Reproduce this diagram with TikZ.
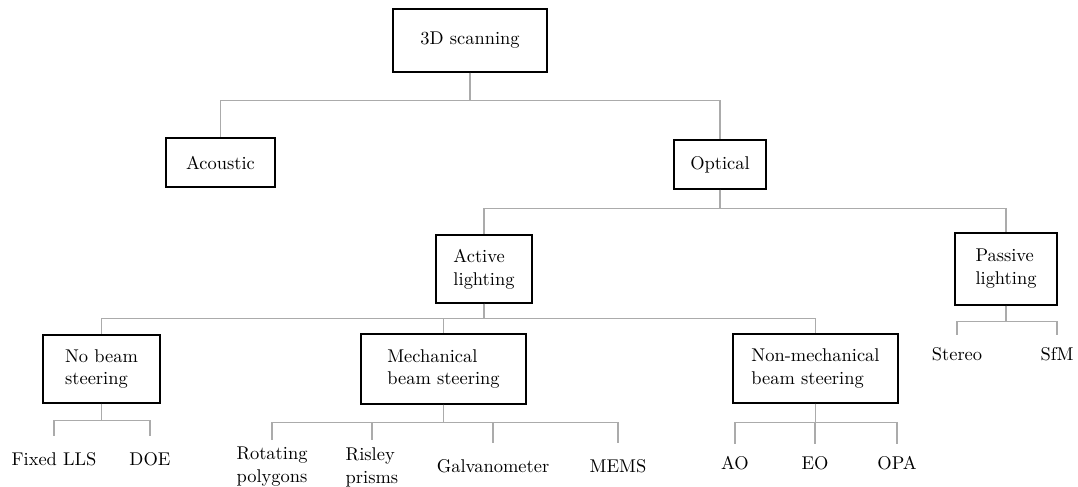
\documentclass[tikz,border=0pt]{standalone}
\usepackage{tikz}

\begin{document}
\begin{tikzpicture}[
  box/.style={draw, line width=0.8pt, align=left},
  leaf/.style={inner sep=0pt, outer ysep=7pt, align=left},
  link/.style={draw=black!33, line width=0.6pt}]
  \fontsize{10.5}{13}\selectfont
  \useasboundingbox (0,0) rectangle (21.56,-9.72);
  \node[box, minimum width=3.08cm, minimum height=1.26cm] (Scanning) at (9.40,-0.81) {3D scanning};
  \node[box, minimum width=2.18cm, minimum height=0.98cm] (Acoustic) at (4.41,-3.25) {Acoustic};
  \node[box, minimum width=1.84cm, minimum height=0.98cm] (Optical) at (14.40,-3.29) {Optical};
  \node[box, minimum width=1.92cm, minimum height=1.36cm] (Active) at (9.68,-5.38) {Active\\lighting};
  \node[box, minimum width=2.04cm, minimum height=1.44cm] (Passive) at (20.12,-5.38) {Passive\\lighting};
  \node[box, minimum width=2.34cm, minimum height=1.36cm] (NoBeam) at (2.03,-7.38) {No beam\\steering};
  \node[box, minimum width=3.30cm, minimum height=1.40cm] (Mechanical) at (8.87,-7.38) {Mechanical\\beam steering};
  \node[box, minimum width=3.30cm, minimum height=1.38cm] (NonMech) at (16.31,-7.37) {Non-mechanical\\beam steering};

  \node[leaf, outer ysep=9.5pt] (FixedLLS) at (1.08,-9.18) {Fixed LLS};
  \node[leaf, outer ysep=9.5pt] (DOE) at (3.00,-9.18) {DOE};
  \node[leaf, outer ysep=4pt] (Rotating) at (5.44,-9.34) {Rotating\\polygons};
  \node[leaf, outer ysep=4pt] (Risley) at (7.44,-9.34) {Risley\\prisms};
  \node[leaf, outer ysep=9.5pt] (Galvo) at (9.86,-9.32) {Galvanometer};
  \node[leaf, outer ysep=9.5pt] (MEMS) at (12.36,-9.32) {MEMS};
  \node[leaf] (AO) at (14.70,-9.26) {AO};
  \node[leaf] (EO) at (16.30,-9.26) {EO};
  \node[leaf] (OPA) at (17.94,-9.26) {OPA};
  \node[leaf] (Stereo) at (19.14,-7.08) {Stereo};
  \node[leaf] (SfM) at (21.14,-7.08) {SfM};

  \draw[link] (Scanning.south) -- ++(0,-0.56) -| (Acoustic.north);
  \draw[link] (Scanning.south) -- ++(0,-0.56) -| (Optical.north);
  \draw[link] (Optical.south) -- ++(0,-0.38) -| (Active.north);
  \draw[link] (Optical.south) -- ++(0,-0.38) -| (Passive.north);
  \draw[link] (Active.south) -- ++(0,-0.30) -| (NoBeam.north);
  \draw[link] (Active.south) -- ++(0,-0.30) -| (Mechanical.north);
  \draw[link] (Active.south) -- ++(0,-0.30) -| (NonMech.north);
  \draw[link] (Passive.south) -- ++(0,-0.32) -| (Stereo.north);
  \draw[link] (Passive.south) -- ++(0,-0.32) -| (SfM.north);
  \draw[link] (NoBeam.south) -- ++(0,-0.34) -| (FixedLLS.north);
  \draw[link] (NoBeam.south) -- ++(0,-0.34) -| (DOE.north);
  \draw[link] (Mechanical.south) -- ++(0,-0.36) -| (Rotating.north);
  \draw[link] (Mechanical.south) -- ++(0,-0.36) -| (Risley.north);
  \draw[link] (Mechanical.south) -- ++(0,-0.36) -| (Galvo.north);
  \draw[link] (Mechanical.south) -- ++(0,-0.36) -| (MEMS.north);
  \draw[link] (NonMech.south) -- ++(0,-0.38) -| (AO.north);
  \draw[link] (NonMech.south) -- ++(0,-0.38) -| (EO.north);
  \draw[link] (NonMech.south) -- ++(0,-0.38) -| (OPA.north);
\end{tikzpicture}
\end{document}
